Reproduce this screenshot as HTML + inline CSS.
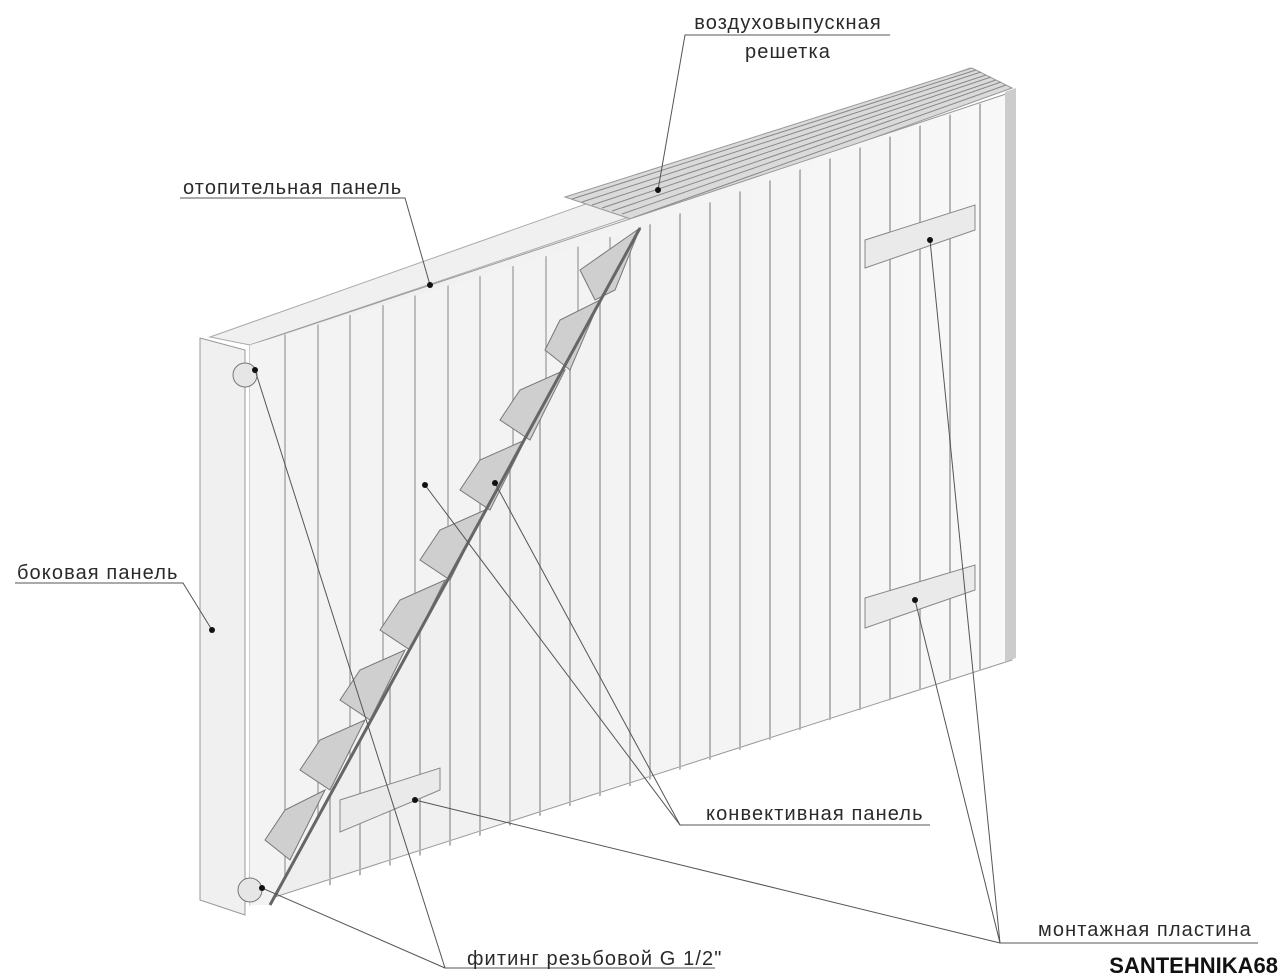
<!DOCTYPE html>
<html><head><meta charset="utf-8">
<style>
html,body{margin:0;padding:0;background:#fff;}
svg{display:block}
text{font-family:"Liberation Sans",sans-serif;font-size:20px;letter-spacing:1.1px;fill:#2a2a2a}
</style></head>
<body>
<svg width="1280" height="977" viewBox="0 0 1280 977" xmlns="http://www.w3.org/2000/svg">
<defs>
<clipPath id="right"><polygon points="640,228 1012,92 1012,660 270,905"/></clipPath>
<clipPath id="left"><polygon points="250,345 640,228 270,905 250,905"/></clipPath>
<linearGradient id="g1" x1="0" x2="1"><stop offset="0" stop-color="#eeeeee"/><stop offset="1" stop-color="#f8f8f8"/></linearGradient>
</defs>
<polygon points="210,337 970,68 1012,88 250,345" fill="#f0f0f0" stroke="#aaa"/>
<polygon points="565,197 972,68 1012,88 640,222" fill="#dadada" stroke="#999"/>
<g stroke="#888" stroke-width="1">
<line x1="572" y1="199" x2="976" y2="70"/><line x1="582" y1="202" x2="981" y2="72"/>
<line x1="592" y1="205" x2="986" y2="75"/><line x1="602" y1="208" x2="991" y2="77"/>
<line x1="612" y1="211" x2="996" y2="80"/><line x1="622" y1="214" x2="1001" y2="82"/>
<line x1="632" y1="218" x2="1006" y2="85"/>
</g>
<polygon points="250,345 1012,92 1012,660 250,905" fill="url(#g1)" stroke="#999"/>
<polygon points="1005,92 1016,88 1016,658 1005,662" fill="#ccc"/>
<g clip-path="url(#right)" stroke="#b5b5b5" stroke-width="2">
<line x1="650" y1="0" x2="650" y2="977"/><line x1="680" y1="0" x2="680" y2="977"/><line x1="710" y1="0" x2="710" y2="977"/><line x1="740" y1="0" x2="740" y2="977"/><line x1="770" y1="0" x2="770" y2="977"/><line x1="800" y1="0" x2="800" y2="977"/><line x1="830" y1="0" x2="830" y2="977"/><line x1="860" y1="0" x2="860" y2="977"/><line x1="890" y1="0" x2="890" y2="977"/><line x1="920" y1="0" x2="920" y2="977"/><line x1="950" y1="0" x2="950" y2="977"/><line x1="980" y1="0" x2="980" y2="977"/>
<line x1="630" y1="0" x2="630" y2="977"/><line x1="600" y1="0" x2="600" y2="977"/><line x1="570" y1="0" x2="570" y2="977"/><line x1="540" y1="0" x2="540" y2="977"/><line x1="510" y1="0" x2="510" y2="977"/><line x1="480" y1="0" x2="480" y2="977"/><line x1="450" y1="0" x2="450" y2="977"/><line x1="420" y1="0" x2="420" y2="977"/><line x1="390" y1="0" x2="390" y2="977"/><line x1="360" y1="0" x2="360" y2="977"/><line x1="330" y1="0" x2="330" y2="977"/>
</g>
<g clip-path="url(#left)" stroke="#aaa" stroke-width="1.5">
<rect x="250" y="200" width="560" height="740" fill="#f3f3f3" stroke="none"/>
<line x1="285" y1="0" x2="285" y2="977"/><line x1="318" y1="0" x2="318" y2="977"/><line x1="350" y1="0" x2="350" y2="977"/><line x1="383" y1="0" x2="383" y2="977"/><line x1="415" y1="0" x2="415" y2="977"/><line x1="448" y1="0" x2="448" y2="977"/><line x1="480" y1="0" x2="480" y2="977"/><line x1="513" y1="0" x2="513" y2="977"/><line x1="546" y1="0" x2="546" y2="977"/><line x1="578" y1="0" x2="578" y2="977"/><line x1="610" y1="0" x2="610" y2="977"/>
</g>
<g fill="#cfcfcf" stroke="#777" stroke-width="1">
<polygon points="640,228 615,290 595,300 580,270"/>
<polygon points="600,300 570,370 545,350 560,320"/>
<polygon points="565,370 530,440 500,420 520,390"/>
<polygon points="525,440 490,510 460,490 480,460"/>
<polygon points="485,510 450,580 420,560 440,530"/>
<polygon points="445,580 410,650 380,630 400,600"/>
<polygon points="405,650 370,720 340,700 360,670"/>
<polygon points="365,720 330,790 300,770 320,740"/>
<polygon points="325,790 290,860 265,840 285,810"/>
</g>
<line x1="640" y1="228" x2="270" y2="905" stroke="#666" stroke-width="3"/>
<g fill="#eaeaea" stroke="#888">
<polygon points="865,240 975,205 975,230 865,268"/>
<polygon points="865,598 975,565 975,590 865,628"/>
<polygon points="340,800 440,768 440,790 340,832"/>
</g>
<polygon points="200,338 245,350 245,915 200,900" fill="#f0f0f0" stroke="#999"/>
<circle cx="245" cy="375" r="12" fill="#e6e6e6" stroke="#777"/>
<circle cx="250" cy="890" r="12" fill="#e6e6e6" stroke="#777"/>
<g stroke="#555" stroke-width="1" fill="none">
<polyline points="890,35 685,35 658,190"/>
<polyline points="180,198 405,198 430,285"/>
<polyline points="15,583 183,583 212,630"/>
<polyline points="930,825 680,825 425,485"/>
<line x1="680" y1="825" x2="495" y2="483"/>
<polyline points="1258,943 1000,943 930,240"/>
<line x1="1000" y1="943" x2="915" y2="600"/>
<line x1="1000" y1="943" x2="415" y2="800"/>
<polyline points="715,968 445,968 255,370"/>
<line x1="445" y1="968" x2="262" y2="888"/>
</g>
<g fill="#111">
<circle cx="658" cy="190" r="3"/><circle cx="430" cy="285" r="3"/><circle cx="212" cy="630" r="3"/>
<circle cx="425" cy="485" r="3"/><circle cx="495" cy="483" r="3"/><circle cx="930" cy="240" r="3"/>
<circle cx="915" cy="600" r="3"/><circle cx="415" cy="800" r="3"/><circle cx="255" cy="370" r="3"/><circle cx="262" cy="888" r="3"/>
</g>
<text x="788" y="29" text-anchor="middle">воздуховыпускная</text>
<text x="788" y="58" text-anchor="middle">решетка</text>
<text x="183" y="194">отопительная панель</text>
<text x="17" y="579">боковая панель</text>
<text x="706" y="820">конвективная панель</text>
<text x="1038" y="936">монтажная пластина</text>
<text x="467" y="965">фитинг резьбовой G 1/2"</text>
<text x="1278" y="973" text-anchor="end" style="font-size:22px;letter-spacing:0;font-weight:bold;fill:#111;font-family:'Liberation Sans Narrow','Liberation Sans',sans-serif">SANTEHNIKA68</text>
</svg>
</body></html>
